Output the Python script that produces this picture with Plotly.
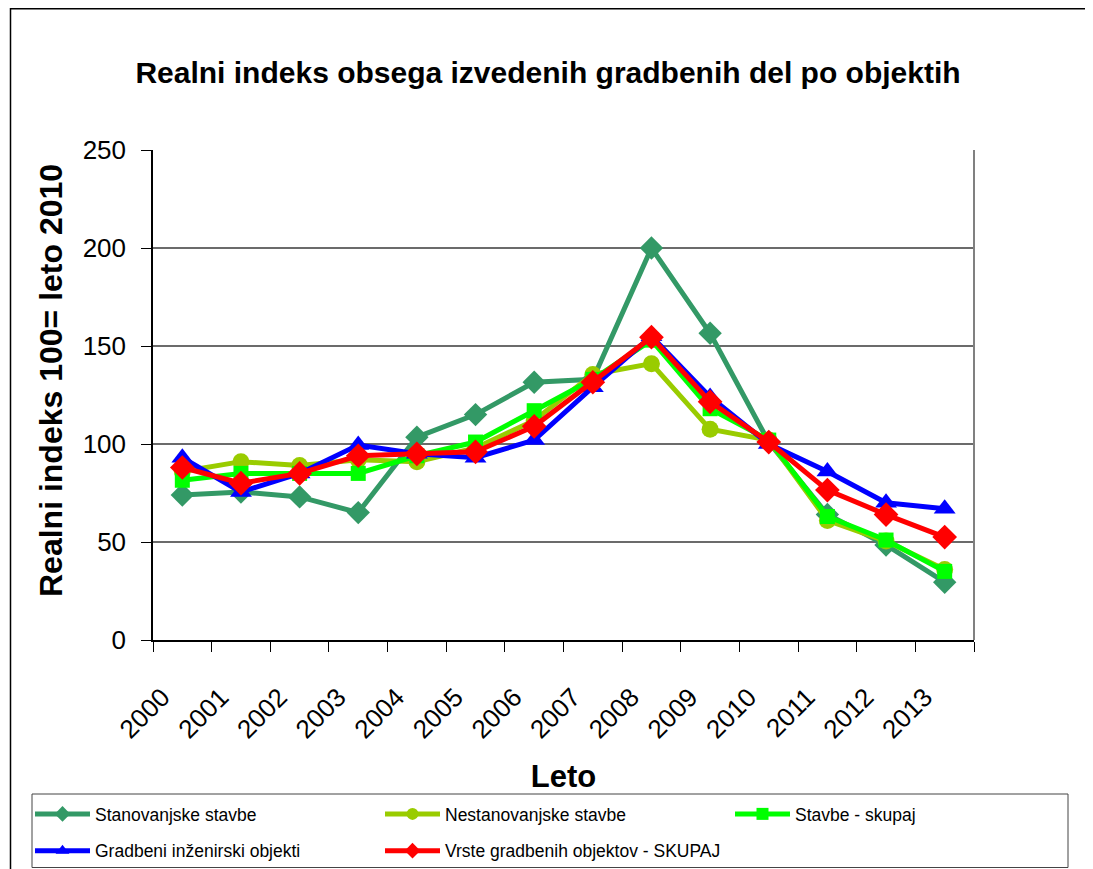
import plotly.graph_objects as go

years = ["2000", "2001", "2002", "2003", "2004", "2005", "2006", "2007",
         "2008", "2009", "2010", "2011", "2012", "2013"]

stanovanjske = [74, 75.5, 73, 65, 103.5, 115, 131.5, 133, 200, 156.5, 101, 64, 48.5, 29.5]
nestanovanjske = [86, 91, 89, 92, 91, 98, 112, 135.5, 141, 107.5, 102, 61, 50.5, 36]
stavbe_skupaj = [81.5, 85, 85, 85, 94, 101, 117, 133, 153, 118, 102, 63, 51, 35]
gradbeni = [93, 75.5, 85, 99.5, 95, 93, 102, 129, 155, 124, 100, 86, 70, 67]
vrste_skupaj = [88, 80, 85, 94, 95, 96, 109, 131.5, 154.5, 121.5, 101, 76.5, 64, 52.5]

# name, values, colour, marker, size, legend column
series = [
    ("Stanovanjske stavbe", stanovanjske, "#339966", "diamond", 18, "legend"),
    ("Nestanovanjske stavbe", nestanovanjske, "#99CC00", "circle", 17, "legend2"),
    ("Stavbe - skupaj", stavbe_skupaj, "#00FF00", "square", 15, "legend3"),
    ("Gradbeni inženirski objekti", gradbeni, "#0000FF", "triangle-up", 19, "legend"),
    ("Vrste gradbenih objektov - SKUPAJ", vrste_skupaj, "#FF0000", "diamond", 19, "legend2"),
]

FONT = "Liberation Sans Narrow, Arial Narrow, Liberation Sans, Arial, sans-serif"

fig = go.Figure()
for i, (name, vals, color, sym, size, leg) in enumerate(series):
    fig.add_trace(go.Scatter(
        x=years, y=vals, name=name, mode="lines+markers",
        line=dict(color=color, width=5),
        marker=dict(symbol=sym, size=size, color=color, line=dict(width=0)),
        legend=leg, legendgroup="g%d" % i,
    ))

# page body has an 8px margin, so lay the figure out in reference pixels minus 8
OFF = 8
W, H = 1093 - OFF, 869 - OFF
L, R, T, B = 153 - OFF, 974 - OFF, 150 - OFF, 640 - OFF
pw, ph = R - L, B - T

def px(x):
    return (x - OFF - L) / pw

def py(y):
    return (B - (y - OFF)) / ph

shapes = [
    # outer frame: top and left edges
    dict(type="line", xref="paper", yref="paper", x0=px(10), x1=px(1120), y0=py(8.8), y1=py(8.8),
         line=dict(color="black", width=1.5), layer="below"),
    dict(type="line", xref="paper", yref="paper", x0=px(10.5), x1=px(10.5), y0=py(8), y1=py(900),
         line=dict(color="black", width=1.5), layer="below"),
    # plot area right border
    dict(type="line", xref="paper", yref="paper", x0=1, x1=1, y0=0, y1=1,
         line=dict(color="#808080", width=2)),
    # legend box
    dict(type="rect", xref="paper", yref="paper", x0=px(32), x1=px(1068), y0=py(794), y1=py(867.5),
         line=dict(color="#444444", width=1), layer="below"),
]

leg_common = dict(orientation="v", xanchor="left", yanchor="top", bgcolor="rgba(0,0,0,0)",
                  borderwidth=0, font=dict(size=17.5, family=FONT), itemwidth=55,
                  itemsizing="constant", tracegroupgap=11, yref="paper", xref="paper")

fig.update_layout(
    width=W, height=H,
    margin=dict(l=L, r=W - R, t=T, b=H - B, autoexpand=False),
    paper_bgcolor="white", plot_bgcolor="white",
    font=dict(family=FONT, color="black"),
    title=dict(text="<b>Realni indeks obsega izvedenih gradbenih del po objektih</b>",
               x=px(548), xref="paper", y=1 - (72 - OFF) / H, yref="container", yanchor="middle",
               xanchor="center", font=dict(size=30, family=FONT)),
    xaxis=dict(
        type="category", showgrid=False, showline=True, linecolor="black", linewidth=1.5,
        ticks="outside", tickson="boundaries", ticklen=10, tickcolor="black",
        tickangle=-45, tickfont=dict(size=26, family=FONT),
        ticklabelstandoff=30, ticklabelshift=-20,
        title=dict(text="<b>Leto</b>", font=dict(size=31, family=FONT), standoff=22),
        range=[-0.5, 13.5],
    ),
    yaxis=dict(
        range=[0, 250], dtick=50, showgrid=True, gridcolor="#6b6b6b", gridwidth=1.5,
        showline=True, linecolor="black", linewidth=1.5, zeroline=False,
        ticks="outside", ticklen=10, tickcolor="black",
        tickfont=dict(size=26, family=FONT), ticklabelstandoff=10,
    ),
    annotations=[dict(
        text="<b>Realni indeks 100= leto 2010</b>", textangle=-90,
        xref="paper", yref="paper", x=px(51), y=py(381), xanchor="center", yanchor="middle",
        showarrow=False, font=dict(size=32, family=FONT),
    )],
    legend=dict(x=px(30), y=py(796), **leg_common),
    legend2=dict(x=px(380), y=py(796), **leg_common),
    legend3=dict(x=px(730), y=py(796), **leg_common),
    shapes=shapes,
)

fig.write_html("out.html")
